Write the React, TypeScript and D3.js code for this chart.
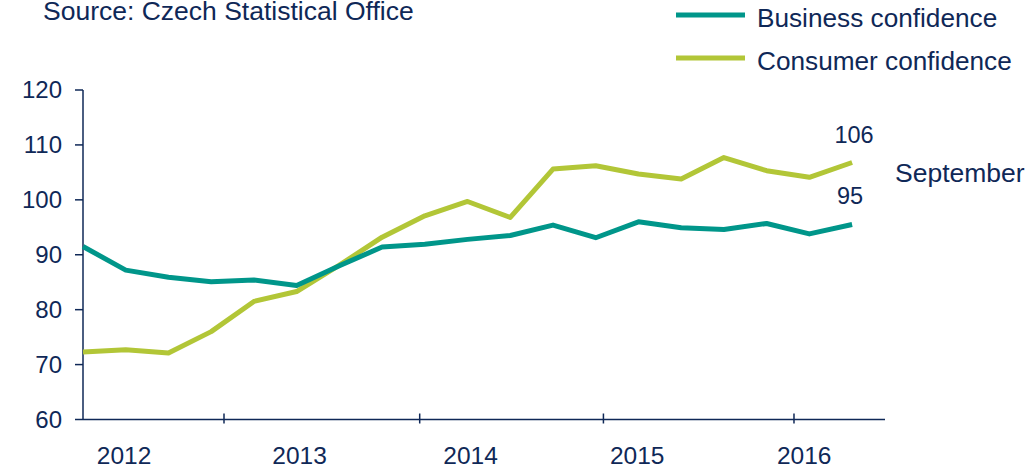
import React from "react";
import * as d3 from "d3";

const quarters = [
  "2012Q1","2012Q2","2012Q3","2012Q4",
  "2013Q1","2013Q2","2013Q3","2013Q4",
  "2014Q1","2014Q2","2014Q3","2014Q4",
  "2015Q1","2015Q2","2015Q3","2015Q4",
  "2016Q1","2016Q2","2016Q3",
];
const business = [91.5, 87.2, 85.9, 85.1, 85.4, 84.4, 88.0, 91.4, 91.9, 92.8, 93.5, 95.4, 93.1, 96.0, 94.9, 94.6, 95.7, 93.8, 95.5];
const consumer = [72.3, 72.7, 72.1, 76.0, 81.5, 83.3, 88.1, 93.2, 97.1, 99.7, 96.8, 105.6, 106.2, 104.7, 103.8, 107.7, 105.3, 104.1, 106.8];
const yTicks = [60, 70, 80, 90, 100, 110, 120];
const yearLabels = ["2012", "2013", "2014", "2015", "2016"];
const yearLabelAt = [0.96, 5.07, 9.07, 12.97, 16.88];
const yearTickAt = [3.3, 7.88, 12.18, 16.64];
const lastBusinessLabel = "95";
const lastConsumerLabel = "106";

const TEAL = "#00968a";
const GREEN = "#b2c637";
const NAVY = "#0f2857";
const FONT = "'Liberation Sans', Arial, sans-serif";

export default function App() {
  const x = d3.scaleLinear().domain([0, 18.77]).range([83, 885]);
  const y = d3.scaleLinear().domain([60, 120]).range([419.5, 90]);
  const line = d3
    .line<number>()
    .x((_, i) => x(i))
    .y((d) => y(d));
  const n = quarters.length - 1;
  return (
    <svg
      width={1036}
      height={469}
      style={{ position: "absolute", left: 0, top: 0, background: "#fff" }}
      fontFamily={FONT}
    >
      <text x={43} y={20} fontSize={26.5} fill={NAVY}>
        Source: Czech Statistical Office
      </text>
      {/* legend */}
      <line x1={676} x2={745} y1={15} y2={15} stroke={TEAL} strokeWidth={5} />
      <text x={757} y={27} fontSize={26.2} fill={NAVY}>Business confidence</text>
      <line x1={676} x2={745} y1={58} y2={58} stroke={GREEN} strokeWidth={5} />
      <text x={757} y={70} fontSize={26.2} fill={NAVY}>Consumer confidence</text>

      {/* y axis */}
      <line x1={83} x2={83} y1={y(120)} y2={y(60)} stroke={NAVY} strokeWidth={1.5} />
      {yTicks.map((t) => (
        <g key={t}>
          <line x1={75} x2={83} y1={y(t)} y2={y(t)} stroke={NAVY} strokeWidth={1.5} />
          <text x={62} y={y(t)} dy="0.35em" fontSize={24} textAnchor="end" fill={NAVY}>
            {t}
          </text>
        </g>
      ))}
      {/* x axis */}
      <line x1={83} x2={885} y1={y(60)} y2={y(60)} stroke={NAVY} strokeWidth={1.5} />
      {yearTickAt.map((t, i) => (
        <line key={i} x1={x(t)} x2={x(t)} y1={y(60) - 6} y2={y(60) + 4} stroke={NAVY} strokeWidth={1.5} />
      ))}
      {yearLabels.map((l, i) => (
        <text key={l} x={x(yearLabelAt[i])} y={464} fontSize={24.5} textAnchor="middle" fill={NAVY}>
          {l}
        </text>
      ))}

      {/* lines */}
      <path d={line(consumer) || ""} fill="none" stroke={GREEN} strokeWidth={5} strokeLinejoin="round" />
      <path d={line(business) || ""} fill="none" stroke={TEAL} strokeWidth={5} strokeLinejoin="round" />

      {/* annotations */}
      <text x={x(n) + 2} y={y(consumer[n]) - 19} fontSize={23.5} textAnchor="middle" fill={NAVY}>
        {lastConsumerLabel}
      </text>
      <text x={x(n) - 2} y={y(business[n]) - 21} fontSize={23.5} textAnchor="middle" fill={NAVY}>
        {lastBusinessLabel}
      </text>
      <text x={895} y={182} fontSize={26.5} fill={NAVY}>September</text>
    </svg>
  );
}
